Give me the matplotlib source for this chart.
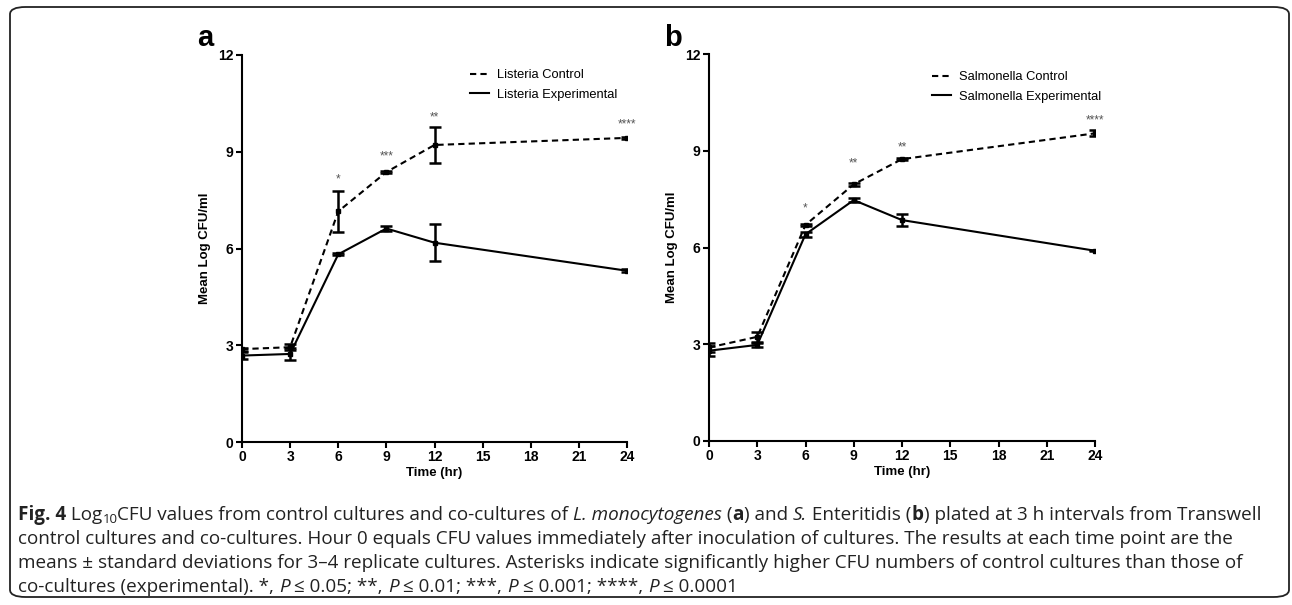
import numpy as np
import matplotlib
matplotlib.use("Agg")
import matplotlib.pyplot as plt
from matplotlib.patches import FancyBboxPatch
from matplotlib.lines import Line2D

plt.rcParams['font.family'] = ['Liberation Sans', 'DejaVu Sans']

hours = [0, 3, 6, 9, 12, 24]

# panel a: Listeria
lis_ctrl = [2.88, 2.94, 7.15, 8.37, 9.21, 9.43]
lis_ctrl_sd = [0.05, 0.10, 0.63, 0.04, 0.57, 0.04]
lis_exp = [2.68, 2.73, 5.82, 6.62, 6.18, 5.31]
lis_exp_sd = [0.10, 0.20, 0.03, 0.08, 0.58, 0.05]
lis_stars = ["", "", "*", "***", "**", "****"]
lis_star_y = [0, 0, 8.15, 8.85, 10.05, 9.85]

# panel b: Salmonella
sal_ctrl = [2.90, 3.23, 6.70, 7.96, 8.74, 9.54]
sal_ctrl_sd = [0.13, 0.16, 0.04, 0.04, 0.03, 0.09]
sal_exp = [2.80, 2.98, 6.41, 7.47, 6.85, 5.90]
sal_exp_sd = [0.15, 0.07, 0.07, 0.07, 0.18, 0.02]
sal_stars = ["", "", "*", "**", "**", "****"]
sal_star_y = [0, 0, 7.2, 8.6, 9.1, 9.95]

W, H = 1292, 605
fig = plt.figure(figsize=(W / 100, H / 100), dpi=100)

DASH = (0, (3, 2))


def draw_panel(ax, ctrl, ctrl_sd, exp, exp_sd, stars, star_y, names, leg_xy):
    kw = dict(color='black', lw=1.5, capsize=4, capthick=1.8, elinewidth=1.8,
              marker='s', markersize=3.5)
    ax.errorbar(hours, ctrl, yerr=ctrl_sd, ls=DASH, **kw)
    ax.errorbar(hours, exp, yerr=exp_sd, ls='-', **kw)
    for x, s, y in zip(hours, stars, star_y):
        if s:
            ax.text(x, y, s, ha='center', va='center', fontsize=8.5, color='#555555')
    ax.set_xlim(0, 24)
    ax.set_ylim(0, 12)
    ax.set_xticks(range(0, 25, 3))
    ax.set_yticks(range(0, 13, 3))
    for sp in ['top', 'right']:
        ax.spines[sp].set_visible(False)
    for sp in ['left', 'bottom']:
        ax.spines[sp].set_linewidth(1.5)
    ax.tick_params(direction='out', length=4, width=1.5, labelsize=10, pad=2)
    for lb in ax.get_xticklabels() + ax.get_yticklabels():
        lb.set_fontweight('bold')
    ax.set_xlabel("Time (hr)", fontsize=9.5, fontweight='bold', labelpad=2)
    ax.set_ylabel("Mean Log CFU/ml", fontsize=9.5, fontweight='bold', labelpad=5)
    handles = [Line2D([], [], color='black', lw=1.5, ls=DASH),
               Line2D([], [], color='black', lw=1.5, ls='-')]
    ax.legend(handles, names, loc='upper left',
              bbox_to_anchor=(leg_xy[0] / W, 1 - leg_xy[1] / H),
              bbox_transform=fig.transFigure, borderaxespad=0, borderpad=0,
              frameon=False, fontsize=9.3, handlelength=1.5, handletextpad=0.6,
              labelspacing=0.6)


ax_a = fig.add_axes([242 / W, 1 - 442 / H, 385 / W, 387 / H])
ax_b = fig.add_axes([709 / W, 1 - 441 / H, 386 / W, 387 / H])
draw_panel(ax_a, lis_ctrl, lis_ctrl_sd, lis_exp, lis_exp_sd, lis_stars, lis_star_y,
           ["Listeria Control", "Listeria Experimental"], (470, 69))
draw_panel(ax_b, sal_ctrl, sal_ctrl_sd, sal_exp, sal_exp_sd, sal_stars, sal_star_y,
           ["Salmonella Control", "Salmonella Experimental"], (932, 71))

fig.text(205 / W, 1 - 38 / H, "a", fontsize=21, fontweight='bold', ha='center', va='center')
fig.text(673 / W, 1 - 38 / H, "b", fontsize=21, fontweight='bold', ha='center', va='center')

# rounded border
box = FancyBboxPatch((10 / W, 8 / H), 1279 / W, 590 / H,
                     boxstyle="round,pad=0,rounding_size=0.012",
                     transform=fig.transFigure, fill=False, lw=1.3, ec='#222222')
fig.add_artist(box)

# caption, drawn run by run
cap_font = 'Open Sans'
cap_size = 13.6
lines = [
    [("Fig. 4", 'b'), (" Log", 'r'), ("10", 's'), ("CFU values from control cultures and co-cultures of ", 'r'),
     ("L. monocytogenes", 'i'), (" (", 'r'), ("a", 'b'), (") and ", 'r'), ("S.", 'i'),
     (" Enteritidis (", 'r'), ("b", 'b'), (") plated at 3 h intervals from Transwell", 'r')],
    [("control cultures and co-cultures. Hour 0 equals CFU values immediately after inoculation of cultures. The results at each time point are the", 'r')],
    [("means \u00b1 standard deviations for 3\u20134 replicate cultures. Asterisks indicate significantly higher CFU numbers of control cultures than those of", 'r')],
    [("co-cultures (experimental). *, ", 'r'), ("P", 'i'), (" \u2264 0.05; **, ", 'r'), ("P", 'i'),
     (" \u2264 0.01; ***, ", 'r'), ("P", 'i'), (" \u2264 0.001; ****, ", 'r'), ("P", 'i'), (" \u2264 0.0001", 'r')],
]
line_y = [514, 538, 562, 586]

renderer = fig.canvas.get_renderer()
for segs, py in zip(lines, line_y):
    x = 18.0
    for txt, st in segs:
        kw = dict(fontsize=cap_size, family=[cap_font, 'DejaVu Sans'], va='baseline', color='#222222')
        yy = 1 - (py + 6) / H
        if st == 'b':
            kw['fontweight'] = 'bold'
        elif st == 'i':
            kw['fontstyle'] = 'italic'
        elif st == 's':
            kw['fontsize'] = cap_size * 0.7
            yy -= 3 / H
        t = fig.text(x / W, yy, txt, **kw)
        bb = t.get_window_extent(renderer)
        x += bb.width

fig.savefig("out.png", dpi=100)
